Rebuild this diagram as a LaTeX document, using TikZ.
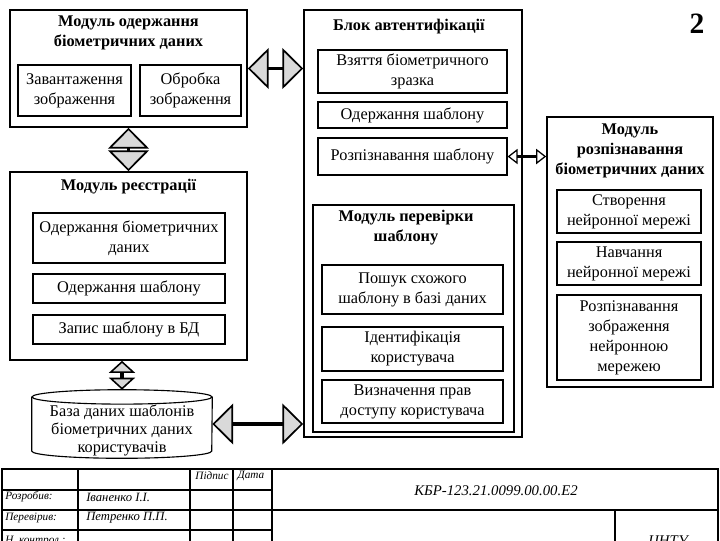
\documentclass[tikz,border=0pt]{standalone}
\usepackage{fontspec}
\setmainfont{Liberation Serif}
\usetikzlibrary{arrows.meta,positioning}
\definecolor{headgray}{HTML}{D9D9D9}
\tikzset{
  modbox/.style={draw, line width=1.1pt, inner sep=0pt},
  modtitle/.style={font=\fontsize{11.6}{14.2}\selectfont\bfseries, align=center, inner sep=0pt},
  stepbox/.style={draw, line width=0.8pt, align=center, inner sep=1pt,
                  font=\fontsize{11.6}{14.2}\selectfont},
  bigarr/.style={>={Triangle[length=0.52cm, width=1.02cm, fill=headgray, line width=1.2pt]},
                 <->, line width=2.6pt},
  midarr/.style={>={Triangle[length=0.3cm, width=0.65cm, fill=headgray, line width=1.1pt]},
                 <->, line width=2.2pt},
  smallarr/.style={>={Triangle[length=0.25cm, width=0.38cm, fill=white, line width=0.9pt]},
                 <->, line width=1.8pt},
  stampline/.style={line width=1.1pt},
  stamptext/.style={font=\fontsize{8}{9}\selectfont\itshape, inner sep=0pt},
  stampname/.style={font=\fontsize{9}{10}\selectfont\itshape, inner sep=0pt}}
\begin{document}
\begin{tikzpicture}[x=0.025cm, y=-0.025cm]
  \useasboundingbox (0,0) rectangle (720,540);
  \clip (0,0) rectangle (720,540);

  % module of acquisition
  \node[modbox, minimum width=5.925cm, minimum height=2.925cm] (acqmod) at (128.5,68.5) {};
  \node[modtitle] (acqtitle) at (128.5,33) {Модуль одержання\\біометричних даних};
  \node[stepbox, minimum width=2.825cm, minimum height=1.275cm] (acqload) at (74.5,90.5) {Завантаження\\зображення};
  \node[stepbox, minimum width=2.525cm, minimum height=1.275cm] (acqproc) at (190.5,90.5) {Обробка\\зображення};

  % registration module
  \node[modbox, minimum width=5.925cm, minimum height=4.7cm] (regmod) at (128.5,266) {};
  \node[modtitle] (regtitle) at (128.5,187) {Модуль реєстрації};
  \node[stepbox, minimum width=4.8cm, minimum height=1.25cm] (regbio) at (129,238) {Одержання біометричних\\даних};
  \node[stepbox, minimum width=4.8cm, minimum height=0.725cm] (regtpl) at (129,288.5) {Одержання шаблону};
  \node[stepbox, minimum width=4.8cm, minimum height=0.725cm] (regsave) at (129,329.5) {Запис шаблону в БД};

  % database
  \node[inner sep=0pt, minimum width=4.5cm, minimum height=1.7cm] (db) at (122,424) {};
  \draw[line width=0.8pt] ([yshift=-0.18cm]db.north west) -- ([yshift=0.18cm]db.south west)
    arc[start angle=180, end angle=360, x radius=2.25cm, y radius=0.18cm]
    -- ([yshift=-0.18cm]db.north east);
  \draw[line width=0.8pt] ([yshift=-0.18cm]db.north) ellipse[x radius=2.25cm, y radius=0.18cm];
  \node[align=center, inner sep=0pt, font=\fontsize{11.6}{13}\selectfont] (dbtext) at (122,430.5)
    {База даних шаблонів\\біометричних даних\\користувачів};

  % authentication block
  \node[modbox, minimum width=5.45cm, minimum height=10.675cm] (auth) at (413,223.5) {};
  \node[modtitle] (authtitle) at (409,27) {Блок автентифікації};
  \node[stepbox, minimum width=4.725cm, minimum height=1.075cm] (authtake) at (412.5,71.5) {Взяття біометричного\\зразка};
  \node[stepbox, minimum width=4.725cm, minimum height=0.65cm] (authtpl) at (412.5,115) {Одержання шаблону};
  \node[stepbox, minimum width=4.725cm, minimum height=0.925cm] (authrec) at (412.5,156.5) {Розпізнавання шаблону};

  \node[modbox, minimum width=5.025cm, minimum height=5.675cm] (chkmod) at (413.5,318.5) {};
  \node[modtitle] (chktitle) at (406,228) {Модуль перевірки\\шаблону};
  \node[stepbox, minimum width=4.525cm, minimum height=1.225cm] (chkfind) at (412.5,289.5) {Пошук схожого\\шаблону в базі даних};
  \node[stepbox, minimum width=4.525cm, minimum height=1.1cm] (chkid) at (412.5,349) {Ідентифікація\\користувача};
  \node[stepbox, minimum width=4.525cm, minimum height=1.075cm] (chkrights) at (412.5,401.5) {Визначення прав\\доступу користувача};

  % recognition module
  \node[modbox, minimum width=4.15cm, minimum height=6.75cm] (recmod) at (630,252) {};
  \node[modtitle] (rectitle) at (630,151) {Модуль\\розпізнавання\\біометричних даних};
  \node[stepbox, minimum width=3.6cm, minimum height=1.075cm] (recmake) at (629,211.5) {Створення\\нейронної мережі};
  \node[stepbox, minimum width=3.6cm, minimum height=1.075cm] (rectrain) at (629,263.5) {Навчання\\нейронної мережі};
  \node[stepbox, minimum width=3.6cm, minimum height=2.125cm] (recimg) at (629,337.5) {Розпізнавання\\зображення\\нейронною\\мережею};

  \node[font=\fontsize{21}{24}\selectfont\bfseries, inner sep=0pt] (sheetno) at (697,24) {2};

  % connectors
  \draw[bigarr] (acqmod.east) -- (acqmod.east -| auth.west);
  \draw[bigarr] (acqmod.south) -- (regmod.north);
  \draw[midarr] (regmod.south -| db.north) -- (db.north);
  \draw[bigarr] (db.east) -- (db.east -| auth.west);
  \draw[smallarr] (authrec.east) -- (authrec.east -| recmod.west);

  % stamp
  \draw[stampline] (2,469) rectangle (718,562);
  \draw[stampline] (2,490) -- (272,490) (2,510) -- (718,510) (2,530) -- (272,530);
  \draw[stampline] (78,469) -- (78,562) (190,469) -- (190,562) (233,469) -- (233,562)
                   (272,469) -- (272,562) (615,510) -- (615,562);
  \node[stamptext] (signhead) at (212,476) {Підпис};
  \node[stamptext] (datehead) at (251,476) {Дата};
  \node[stamptext, anchor=west] (devlabel) at (5,497) {Розробив:};
  \node[stampname, anchor=west] (devname) at (86,497) {Іваненко І.І.};
  \node[stamptext, anchor=west] (chklabel) at (5,518) {Перевірив:};
  \node[stampname, anchor=west] (chkname) at (86,518) {Петренко П.П.};
  \node[stamptext, anchor=west] (ctrllabel) at (5,541) {Н. контрол.:};
  \node[font=\fontsize{10.5}{12}\selectfont\itshape, inner sep=0pt] (doccode) at (496,491) {КБР-123.21.0099.00.00.Е2};
  \node[font=\fontsize{10.5}{12}\selectfont\itshape, inner sep=0pt] (orgname) at (668,542) {ЦНТУ};
\end{tikzpicture}
\end{document}
